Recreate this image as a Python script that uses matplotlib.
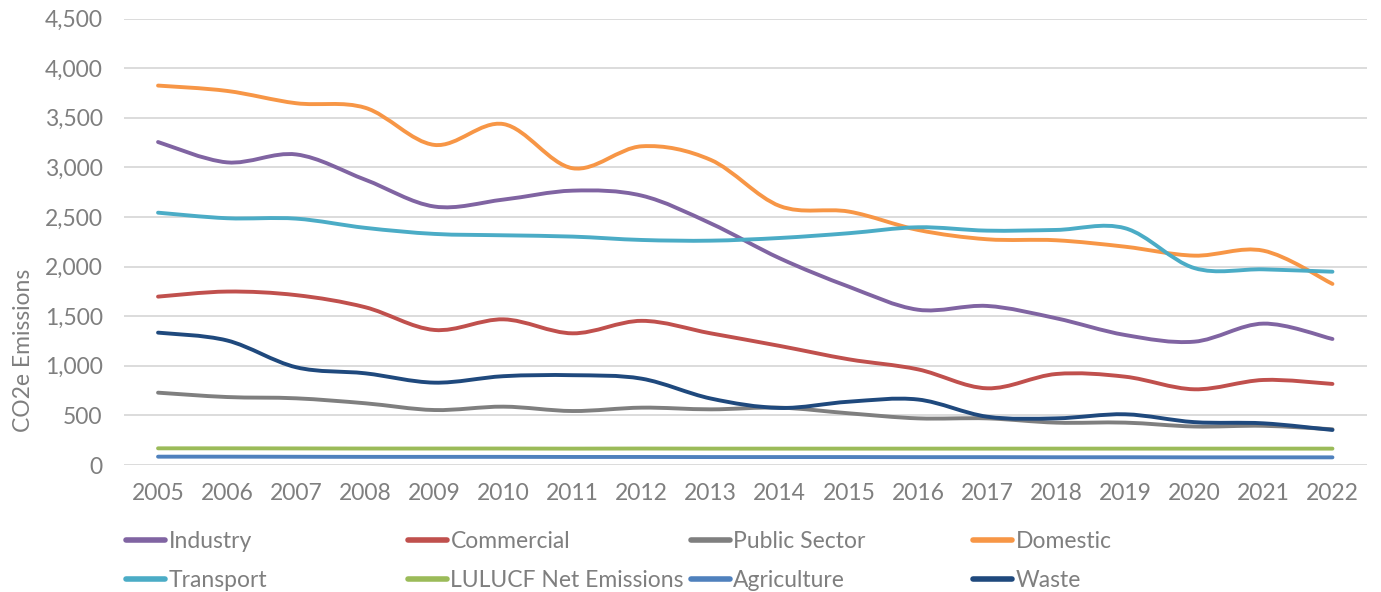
import matplotlib
matplotlib.use("Agg")
import matplotlib.pyplot as plt
from matplotlib.path import Path
from matplotlib.patches import PathPatch
from matplotlib.lines import Line2D
from matplotlib.ticker import FuncFormatter, MultipleLocator

plt.rcParams['font.family'] = ['Lato', 'DejaVu Sans']

years = [str(y) for y in range(2005, 2023)]

industry = [3255, 3050, 3130, 2875, 2605, 2675, 2765, 2715, 2435, 2083, 1797, 1565, 1603, 1479, 1310, 1243, 1425, 1270]
commercial = [1697, 1748, 1712, 1590, 1361, 1468, 1327, 1453, 1327, 1200, 1065, 964, 773, 917, 890, 763, 857, 817]
public_sector = [729, 685, 672, 622, 554, 588, 544, 578, 561, 578, 521, 470, 470, 427, 427, 388, 395, 360]
domestic = [3824, 3770, 3646, 3600, 3226, 3436, 2991, 3212, 3075, 2610, 2554, 2369, 2275, 2265, 2200, 2110, 2160, 1825]
transport = [2543, 2487, 2483, 2390, 2329, 2315, 2302, 2268, 2261, 2288, 2336, 2396, 2362, 2369, 2386, 1985, 1972, 1948]
lulucf = [168, 168, 167, 166, 166, 166, 165, 166, 165, 165, 165, 165, 165, 165, 165, 165, 165, 165]
agriculture = [84, 84, 83, 82, 82, 82, 81, 81, 80, 80, 80, 79, 79, 78, 78, 77, 77, 77]
waste = [1334, 1255, 985, 924, 830, 895, 905, 870, 670, 575, 638, 660, 487, 470, 511, 432, 420, 353]

series_names = ["Industry", "Commercial", "Public Sector", "Domestic",
                "Transport", "LULUCF Net Emissions", "Agriculture", "Waste"]
series_values = [industry, commercial, public_sector, domestic,
                 transport, lulucf, agriculture, waste]
series_colors = ["#8064A2", "#C0504D", "#7F7F7F", "#F79646",
                 "#4BACC6", "#9BBB59", "#4F81BD", "#1F497D"]

TEXT = "#7F7F7F"
FS = 16.5


def smooth_path(xs, ys):
    n = len(xs)
    verts = [(xs[0], ys[0])]
    codes = [Path.MOVETO]
    for i in range(n - 1):
        x0, y0 = xs[max(i - 1, 0)], ys[max(i - 1, 0)]
        x1, y1 = xs[i], ys[i]
        x2, y2 = xs[i + 1], ys[i + 1]
        x3, y3 = xs[min(i + 2, n - 1)], ys[min(i + 2, n - 1)]
        c1 = (x1 + (x2 - x0) / 6.0, y1 + (y2 - y0) / 6.0)
        c2 = (x2 - (x3 - x1) / 6.0, y2 - (y3 - y1) / 6.0)
        verts += [c1, c2, (x2, y2)]
        codes += [Path.CURVE4, Path.CURVE4, Path.CURVE4]
    return Path(verts, codes)


fig = plt.figure(figsize=(13.81, 5.92), dpi=100)
ax = fig.add_axes([123.5 / 1381, 1 - 465 / 592, (1367 - 123.5) / 1381, (465 - 18.5) / 592])

xs = list(range(len(years)))
for name, vals, col in zip(series_names, series_values, series_colors):
    p = smooth_path(xs, vals)
    patch = PathPatch(p, facecolor='none', edgecolor=col, lw=2.8,
                      capstyle='round', joinstyle='round', transform=ax.transData, zorder=3)
    ax.add_patch(patch)

ax.set_xlim(-0.5, len(years) - 0.5)
ax.set_ylim(0, 4500)
ax.yaxis.set_major_locator(MultipleLocator(500))
ax.yaxis.set_major_formatter(FuncFormatter(lambda v, p: f"{int(v):,}"))
ax.set_xticks(xs)
ax.set_xticklabels(years)
ax.grid(axis='y', color='#D9D9D9', lw=1.3, zorder=0)
ax.set_axisbelow(True)
for s in ax.spines.values():
    s.set_visible(False)
ax.tick_params(axis='both', length=0, labelsize=FS, labelcolor=TEXT)
ax.tick_params(axis='y', pad=15)
ax.tick_params(axis='x', pad=13)

fig.text(24 / 1381, 242 / 592, "CO2e Emissions", rotation=90, ha='center', va='center',
         fontsize=FS, color=TEXT)

# legend in 4 columns, 2 rows (row-major order)
col_x = [126, 408, 691, 973]
for c in range(4):
    handles = []
    labels = []
    for r in range(2):
        k = r * 4 + c
        handles.append(Line2D([], [], color=series_colors[k], lw=4, solid_capstyle='round'))
        labels.append(series_names[k])
    fig.legend(handles, labels, loc='upper left',
               bbox_to_anchor=(col_x[c] / 1381, 1 - 531 / 592),
               frameon=False, fontsize=FS, labelcolor=TEXT, handlelength=1.7,
               handletextpad=0.15, borderpad=0, borderaxespad=0, labelspacing=0.8)

fig.savefig("out.png", dpi=100)
